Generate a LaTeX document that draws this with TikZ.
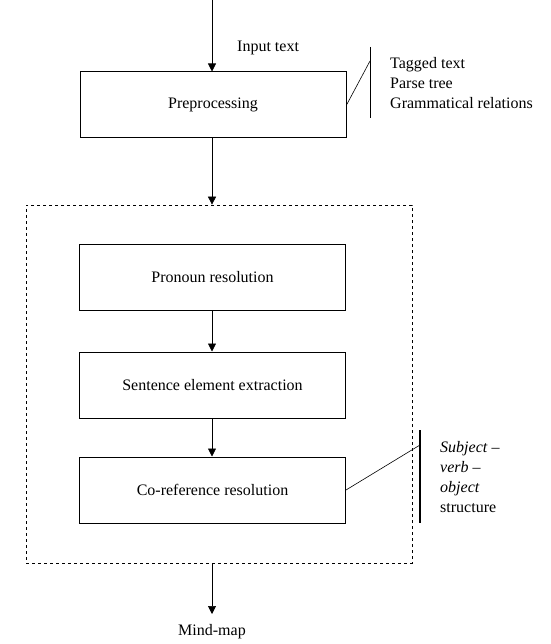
\documentclass[tikz,border=0pt]{standalone}
\usepackage{fontspec}
\setmainfont{Liberation Serif}
\usetikzlibrary{arrows.meta,positioning}

\begin{document}
\begin{tikzpicture}[x=1pt,y=-1pt,
    font=\fontsize{16}{20}\selectfont,
    stage/.style={draw,line width=1pt,minimum width=266pt,minimum height=66pt,inner sep=0pt},
    flow/.style={-{Triangle[width=8pt,length=8pt]},line width=0.7pt},
    note/.style={align=left,anchor=west,inner sep=0pt}]
    \useasboundingbox (0,0) rectangle (550,644);
    \node[draw,dashed,line width=0.7pt,minimum width=386pt,minimum height=358pt] (grp) at (219,384) {};
    \node[stage] (pre) at (213,105) {Preprocessing};
    \node[stage] (pro) at (212.5,277.5) {Pronoun resolution};
    \node[stage] (sen) at (212.5,385) {Sentence element extraction};
    \node[stage] (cor) at (212.5,490) {Co-reference resolution};
    \coordinate (in) at (212,0);
    \node[anchor=west,inner sep=0pt] (intxt) at (237,48) {Input text};
    \coordinate (mmtip) at (212,614);
    \node[anchor=center,inner sep=0pt] (mm) at (212,632) {Mind-map};
    % flow
    \draw[flow] (in) -- (in |- pre.north);
    \draw[flow] (in |- pre.south) -- (in |- grp.north);
    \foreach \a/\b in {pro/sen,sen/cor} {
        \draw[flow] (in |- \a.south) -- (in |- \b.north);
        }
    \draw[flow] (in |- grp.south) -- (mmtip);
    % side notes
    \coordinate (pk) at (370,61);
    \draw[line width=0.7pt] (370,47) -- (370,118);
    \draw[line width=0.6pt] (pre.east) -- (pk);
    \node[note] (prenote) at (390,83) {Tagged text\\Parse tree\\Grammatical relations};
    \coordinate (ck) at (420,445);
    \draw[line width=1.8pt] (420,430) -- (420,523);
    \draw[line width=0.6pt] (cor.east) -- (ck);
    \node[note] (cornote) at (440,477) {\textit{Subject} --\\\textit{verb} --\\\textit{object}\\structure};
  \end{tikzpicture}
\end{document}
